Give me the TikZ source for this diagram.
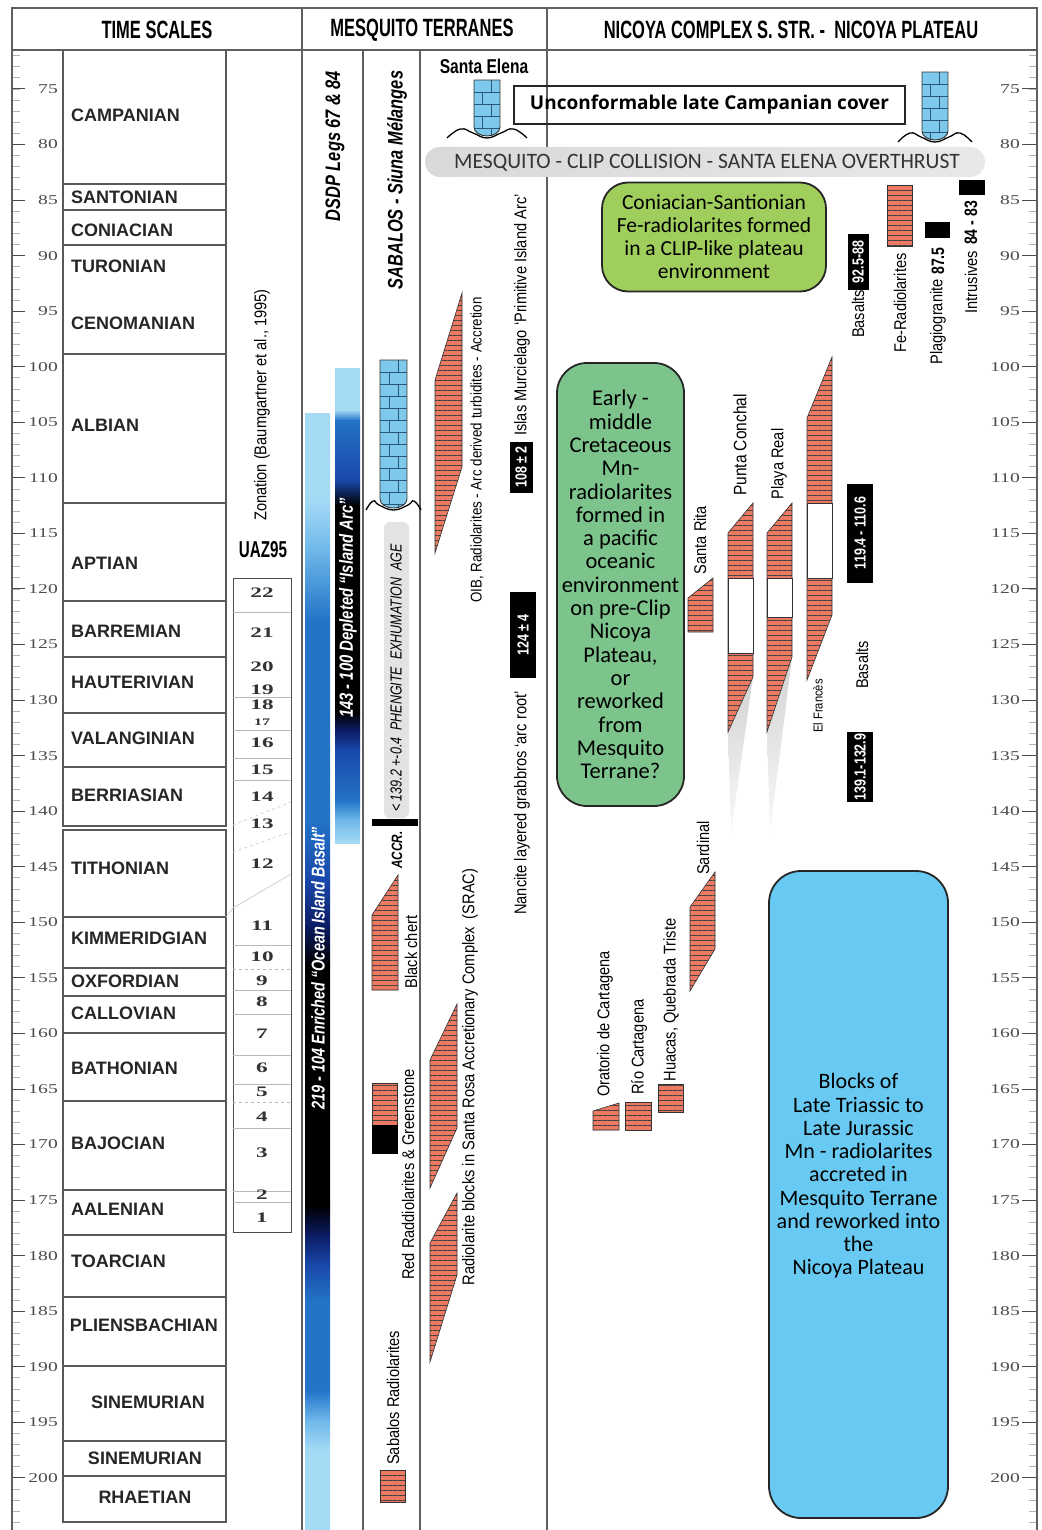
\documentclass[tikz,border=0pt]{standalone}
\usepackage{fontspec}
\setmainfont{Liberation Sans}
\newfontfamily\narrowfont[FakeStretch=0.78]{Liberation Sans}
\newfontfamily\labelfont[FakeStretch=0.86]{Liberation Sans}
\newfontfamily\headfont[FakeStretch=0.66]{Liberation Sans}
\newfontfamily\numfont[FakeStretch=1.45]{Liberation Serif}
\newfontfamily\zonefont[FakeStretch=1.6]{Liberation Serif}
\newfontfamily\boxfont{Carlito}
\newfontfamily\capfont[FakeStretch=0.98]{Carlito}
\newfontfamily\coverfont{Open Sans}
\usetikzlibrary{patterns.meta}

\definecolor{radred}{RGB}{236,122,98}
\definecolor{limeblue}{RGB}{125,200,235}
\definecolor{limeline}{RGB}{40,90,120}
\definecolor{feboxgreen}{RGB}{160,206,92}
\definecolor{mnboxgreen}{RGB}{124,196,140}
\definecolor{blockblue}{RGB}{104,202,242}
\definecolor{framegray}{RGB}{95,95,95}
\definecolor{barpale}{RGB}{165,218,245}
\definecolor{barsky}{RGB}{110,184,234}
\definecolor{barmid}{RGB}{35,115,200}
\definecolor{bardeep}{RGB}{25,72,170}
\definecolor{bardark}{RGB}{11,28,100}

% limestone column: x1, x2, top, bottom, wave reach
\newcommand\limecol[5]{%
  \pgfmathsetmacro\lcmid{(#1+#2)/2}
  \pgfmathsetmacro\lcrad{(#2-#1)/2}
  \begin{scope}
    \clip (#1,#3) -- (#1,{#4-9}) arc[start angle=180, end angle=0, x radius=\lcrad, y radius=9] -- (#2,#3) -- cycle;
    \fill[limeblue] (#1,#3) rectangle (#2,#4);
    \foreach \k in {1,...,13} {
      \pgfmathsetmacro\yy{#3+\k*12}
      \pgfmathsetmacro\xx{\lcmid+(mod(\k,2)-0.5)*9}
      \draw[limeline, line width=0.6pt] (#1,\yy) -- (#2,\yy);
      \draw[limeline, line width=0.6pt] (\xx,\yy) -- (\xx,{\yy-12});
    }
  \end{scope}
  \draw[black!80, line width=0.9pt] (#1,#3) -- (#1,{#4-9}) arc[start angle=180, end angle=0, x radius=\lcrad, y radius=9] -- (#2,#3) -- cycle;
  \draw[line width=1.3pt] plot[smooth, tension=0.8] coordinates {({#1-#5},{#4+2}) ({#1-#5/2},{#4-7}) ({#1-1},{#4-3}) (\lcmid,{#4+2}) ({#2+1},{#4-3}) ({#2+#5/2},{#4-7}) ({#2+#5},{#4+2})};
}

\begin{document}
\begin{tikzpicture}[x=1pt, y=-1pt,
  rule/.style={draw=framegray, line width=1.3pt},
  stagerule/.style={draw=gray!70!black, line width=1.1pt},
  stagelab/.style={font=\fontsize{18}{18}\selectfont\bfseries, text=black!85, inner sep=0pt},
  agenum/.style={font=\numfont\fontsize{13.5}{13.5}\selectfont, text=black!70, inner sep=0pt},
  zonenum/.style={font=\zonefont\bfseries\fontsize{14.5}{14.5}\selectfont, text=black!80, inner sep=0pt},
  vlabel/.style={rotate=90, font=\labelfont\fontsize{17}{17}\selectfont, inner sep=0pt},
  vtitle/.style={rotate=90, font=\narrowfont\bfseries\itshape\fontsize{21}{21}\selectfont, inner sep=0pt},
  agetag/.style={rotate=90, fill=black, text=white, font=\narrowfont\bfseries\fontsize{16}{16}\selectfont, inner sep=0pt},
  radblock/.style={draw=black!80, line width=0.6pt, preaction={fill=radred}, pattern={Lines[angle=0,distance=5pt,line width=0.9pt]}, pattern color=black!75},
  gap/.style={draw=black!80, line width=0.6pt, fill=white},
  headlab/.style={font=\headfont\bfseries\fontsize{25}{25}\selectfont, inner sep=0pt},
  roundbox/.style={draw=black!85, line width=1.8pt, rounded corners=26pt, align=center, inner sep=0pt}
]
\useasboundingbox (0,0) rectangle (1041,1530);
\fill[white] (0,0) rectangle (1041,1530);

% age scales
\foreach \a in {72,...,204} {
  \pgfmathsetmacro\yy{89+(\a-75)*11.111}
  \draw[gray!60, line width=0.8pt] (12,\yy) -- (20,\yy);
  \draw[gray!60, line width=0.8pt] (1029,\yy) -- (1037,\yy);
}
\foreach \a in {75,80,...,200} {
  \pgfmathsetmacro\yy{89+(\a-75)*11.111}
  \draw[black!70, line width=1pt] (12,\yy) -- (25,\yy);
  \draw[black!70, line width=1pt] (1022,\yy) -- (1037,\yy);
  \node[agenum, anchor=east] (numL\a) at (58,\yy) {\a};
  \node[agenum, anchor=east] (numR\a) at (1020,\yy) {\a};
}

% stages
\foreach \top/\bot in {50/184, 184/210, 210/245, 245/354, 354/503, 503/601, 601/657,
  657/713, 713/767, 767/826, 830/917, 917/968, 968/996, 996/1033, 1033/1101, 1101/1190,
  1190/1235, 1235/1297, 1297/1366, 1366/1441, 1441/1476, 1476/1522}
  \draw[stagerule] (63,\top) rectangle (226,\bot);
\foreach \lab/\yy in {CAMPANIAN/115, SANTONIAN/197, CONIACIAN/230, TURONIAN/266,
  CENOMANIAN/323, ALBIAN/425, APTIAN/563, BARREMIAN/631, HAUTERIVIAN/682,
  VALANGINIAN/738, BERRIASIAN/795, TITHONIAN/868, KIMMERIDGIAN/938, OXFORDIAN/981,
  CALLOVIAN/1013, BATHONIAN/1068, BAJOCIAN/1143, AALENIAN/1209, TOARCIAN/1261}
  \node[stagelab, anchor=west] (stage\yy) at (71,\yy) {\lab};
\node[stagelab] (stage1325) at (144,1325) {PLIENSBACHIAN};
\node[stagelab] (stage1402) at (148,1402) {SINEMURIAN};
\node[stagelab] (stage1458) at (145,1458) {SINEMURIAN};
\node[stagelab] (stage1497) at (145,1497) {RHAETIAN};

% radiolarian zones
\node[vlabel] (zonation) at (262,405) {Zonation (Baumgartner et al., 1995)};
\node[headlab, font=\headfont\bfseries\fontsize{23}{23}\selectfont] (uaz) at (263,550) {UAZ95};
\draw[gray!60!black, line width=1pt] (233,578) rectangle (291,1232);
\foreach \yy in {612,697,730,758,780,945,990,1014,1055,1084,1128,1191,1202}
  \draw[gray!55, line width=0.8pt] (233,\yy) -- (291,\yy);
\foreach \yy in {969,1102}
  \draw[gray!55, line width=0.8pt, dashed] (233,\yy) -- (291,\yy);
\draw[gray!40, line width=0.7pt] (226,917) -- (233,908) -- (291,874);
\draw[gray!40, line width=0.7pt, dashed] (233,825) -- (291,802);
\draw[gray!40, line width=0.7pt, dashed] (233,852) -- (291,832);
\foreach \z/\yy in {22/593, 21/633, 20/667, 19/690, 18/705, 16/743, 15/770, 14/797,
  13/824, 12/864, 11/926, 10/957, 9/981, 8/1002, 7/1034, 6/1068, 5/1092, 4/1117,
  3/1153, 2/1195, 1/1218}
  \node[zonenum] (zone\z) at (262,\yy) {\z};
\node[zonenum, font=\zonefont\bfseries\fontsize{10}{10}\selectfont] (zone17) at (262,722) {17};

% frame and headers
\draw[rule] (12,1530) -- (12,8) -- (1037,8) -- (1037,1530);
\draw[rule] (12,50) -- (1037,50);
\draw[rule] (302,8) -- (302,1530);
\draw[rule] (547,8) -- (547,1530);
\draw[rule] (363,50) -- (363,1530);
\draw[rule] (420,50) -- (420,1530);
\node[headlab] (hTime) at (157,30) {TIME SCALES};
\node[headlab] (hMesq) at (422,30) {MESQUITO TERRANES};
\node[headlab] (hNic) at (791,30) {NICOYA COMPLEX S. STR. -\ \ NICOYA PLATEAU};

% DSDP column: geochemistry bars, built from graded segments
\node[vtitle] (dsdp) at (335,146) {DSDP Legs 67 \& 84};
\foreach \ya/\yb/\ca/\cb in {413/500/barpale/barpale, 500/550/barpale/barsky,
  550/620/barsky/barmid, 620/820/barmid/barmid, 820/880/barmid/bardeep,
  880/925/bardeep/bardark, 925/965/bardark/black, 965/1205/black/black,
  1205/1235/black/bardark, 1235/1265/bardark/bardeep, 1265/1300/bardeep/barmid,
  1300/1390/barmid/barmid, 1390/1420/barmid/barsky, 1420/1450/barsky/barpale,
  1450/1530/barpale/barpale}
  \shade[top color=\ca, bottom color=\cb] (305,\ya) rectangle (330,{\yb+0.6});
\foreach \ya/\yb/\ca/\cb in {368/410/barpale/barpale, 410/420/barpale/barmid,
  420/480/barmid/bardeep, 480/505/bardeep/black, 505/712/black/black,
  712/730/black/bardark, 730/750/bardark/bardeep, 750/800/bardeep/barmid,
  800/820/barmid/barsky, 820/843/barsky/barpale}
  \shade[top color=\ca, bottom color=\cb] (335,\ya) rectangle (360,{min(\yb+0.6,843)});
\node[vtitle, text=white, font=\narrowfont\bfseries\itshape\fontsize{18.5}{18.5}\selectfont] (oib) at (318,968) {219 - 104 Enriched “Ocean Island Basalt”};
\node[vtitle, text=white, font=\narrowfont\bfseries\itshape\fontsize{19}{19}\selectfont] (arc) at (348,608) {143 - 100 Depleted “Island Arc”};

% Sabalos column
\node[vtitle] (sabalos) at (397,180) {SABALOS - Siuna M\'elanges};
\limecol{380}{407}{360}{508}{14}
\fill[gray!22, rounded corners=6pt] (384,522) rectangle (409,818);
\node[vlabel, font=\narrowfont\itshape\fontsize{16}{16}\selectfont] (pheng) at (396,678) {< 139.2 +-0.4\ \ PHENGITE\ \ EXHUMATION\ \ AGE};
\fill[black] (372,819) rectangle (418,826);
\node[vlabel, font=\narrowfont\bfseries\itshape\fontsize{15}{15}\selectfont] (accr) at (397,850) {ACCR.};
\path[radblock] (398,875) -- (398,990) -- (372,990) -- (372,915) -- cycle;
\node[vlabel] (chert) at (411,952) {Black chert};
\path[radblock] (372,1083) rectangle (397,1125);
\draw[fill=black] (372,1125) rectangle (397,1153);
\node[vlabel, anchor=west] (redrad) at (408,1280) {Red Raddiolarites \& Greenstone};
\path[radblock] (380,1470) rectangle (405,1502);
\node[vlabel, anchor=west] (sabrad) at (393,1465) {Sabalos Radiolarites};

% Santa Elena column
\node[font=\narrowfont\bfseries\fontsize{20}{20}\selectfont, inner sep=0pt] (stelena) at (484,66) {Santa Elena};
\limecol{474}{500}{80}{136}{27}
\path[radblock] (462,293) -- (462,467) -- (435,553) -- (435,380) -- cycle;
\node[vlabel, font=\labelfont\fontsize{15.5}{15.5}\selectfont] (oibrad) at (477,450) {OIB, Radiolarites - Arc derived turbidites - Accretion};
\node[vlabel] (islas) at (522,315) {Islas Murcielago ‘Primitive Island Arc’};
\node[agetag, minimum width=51, minimum height=23] (age108) at (521,467) {108 ± 2};
\node[agetag, minimum width=86, minimum height=26] (age124) at (523,635) {124 ± 4};
\node[vlabel] (nancite) at (522,803) {Nancite layered grabbros ‘arc root’};
\path[radblock] (457,1004) -- (457,1128) -- (430,1188) -- (430,1060) -- cycle;
\path[radblock] (457,1193) -- (457,1275) -- (430,1362) -- (430,1243) -- cycle;
\node[vlabel] (srac) at (470,1077) {Radiolarite blocks in Santa Rosa Accretionary Complex\ \ (SRAC)};

% Nicoya: cover and collision
\node[draw=black!85, line width=1.3pt, minimum width=391, minimum height=38, inner sep=0pt,
  font=\coverfont\bfseries\fontsize{19}{19}\selectfont] (cover) at (709.5,105) {Unconformable late Campanian cover};
\limecol{922}{948}{72}{140}{24}
\shade[left color=gray!30, right color=gray!18, rounded corners=15pt] (425,147) rectangle (985,177);
\node[font=\capfont\fontsize{22}{22}\selectfont, text=black!80, inner sep=0pt] (collision) at (707,163)
  {MESQUITO - CLIP COLLISION - SANTA ELENA OVERTHRUST};

% Late Cretaceous units
\node[roundbox, fill=feboxgreen, minimum width=224, minimum height=109,
  font=\boxfont\fontsize{21.5}{23}\selectfont] (febox) at (714,237)
  {Coniacian-Santionian\\Fe-radiolarites formed\\in a CLIP-like plateau\\environment};
\path[radblock] (887,185) rectangle (912,246);
\node[vlabel] (ferad) at (900,303) {Fe-Radiolarites};
\node[agetag, minimum width=55, minimum height=21] (age92) at (858,262) {92.5-88};
\node[vlabel] (basaltsA) at (858,314) {Basalts};
\fill[black] (925,222) rectangle (950,238);
\node[vlabel, font=\narrowfont\bfseries\fontsize{18}{18}\selectfont] (age87) at (938,261) {87.5};
\node[vlabel] (plagio) at (938,322) {Plagiogranite};
\fill[black] (959,180) rectangle (985,195);
\node[vlabel, font=\narrowfont\bfseries\fontsize{18}{18}\selectfont] (age84) at (971,223) {84 - 83};
\node[vlabel] (intrus) at (971,282) {Intrusives};

% Early Cretaceous units
\node[roundbox, fill=mnboxgreen, minimum width=127, minimum height=443, rounded corners=30pt,
  font=\boxfont\fontsize{22.5}{23.3}\selectfont] (mnbox) at (620.5,584.5)
  {Early -\\middle\\Cretaceous\\Mn-\\radiolarites\\formed in\\a pacific\\oceanic\\environment\\on pre-Clip\\Nicoya\\Plateau,\\or\\reworked\\from\\Mesquito\\Terrane?};
\shade[top color=gray!35, bottom color=gray!5] (753,677) -- (728,732) -- (731,832) -- cycle;
\shade[top color=gray!35, bottom color=gray!5] (792,657) -- (767,732) -- (770,832) -- cycle;
\path[radblock] (713,578) -- (713,632) -- (688,632) -- (688,598) -- cycle;
\node[vlabel] (starita) at (700,540) {Santa Rita};
\path[radblock] (753,503) -- (753,677) -- (728,732) -- (728,533) -- cycle;
\draw[gap] (728,578) rectangle (753,653);
\node[vlabel, font=\labelfont\fontsize{18}{18}\selectfont] (pconchal) at (740,445) {Punta Conchal};
\path[radblock] (792,503) -- (792,657) -- (767,732) -- (767,533) -- cycle;
\draw[gap] (767,578) rectangle (792,617);
\node[vlabel] (preal) at (779,464) {Playa Real};
\path[radblock] (832,357) -- (832,615) -- (807,680) -- (807,418) -- cycle;
\draw[gap] (807,503) rectangle (832,578);
\node[vlabel, font=\labelfont\fontsize{13}{13}\selectfont] (efrances) at (818,706) {El Franc\`es};
\node[agetag, minimum width=99, minimum height=26] (age119) at (860,533) {119.4 - 110.6};
\node[vlabel] (basaltsB) at (862,665) {Basalts};
\node[agetag, minimum width=70, minimum height=26] (age139) at (860,767) {139.1-132.9};

% Jurassic units
\path[radblock] (715,872) -- (715,949) -- (690,991) -- (690,907) -- cycle;
\node[vlabel] (sardinal) at (703,848) {Sardinal};
\path[radblock] (658,1084) rectangle (683,1112);
\node[vlabel] (huacas) at (671,1000) {Huacas, Quebrada Triste};
\path[radblock] (625,1102) rectangle (651,1130);
\node[vlabel] (riocart) at (639,1047) {R\'io Cartagena};
\path[radblock] (593,1130) -- (619,1130) -- (619,1103) -- (593,1111) -- cycle;
\node[vlabel] (oratorio) at (605,1024) {Oratorio de Cartagena};
\node[roundbox, fill=blockblue, minimum width=179, minimum height=647, rounded corners=32pt] (blockbox) at (858.5,1194.5) {};
\node[align=center, inner sep=0pt, font=\boxfont\fontsize{22}{23.25}\selectfont] (blocktext) at (858.5,1176)
  {Blocks of\\Late Triassic to\\Late Jurassic\\Mn - radiolarites\\accreted in\\Mesquito Terrane\\and reworked into\\the\\Nicoya Plateau};
\end{tikzpicture}
\end{document}
